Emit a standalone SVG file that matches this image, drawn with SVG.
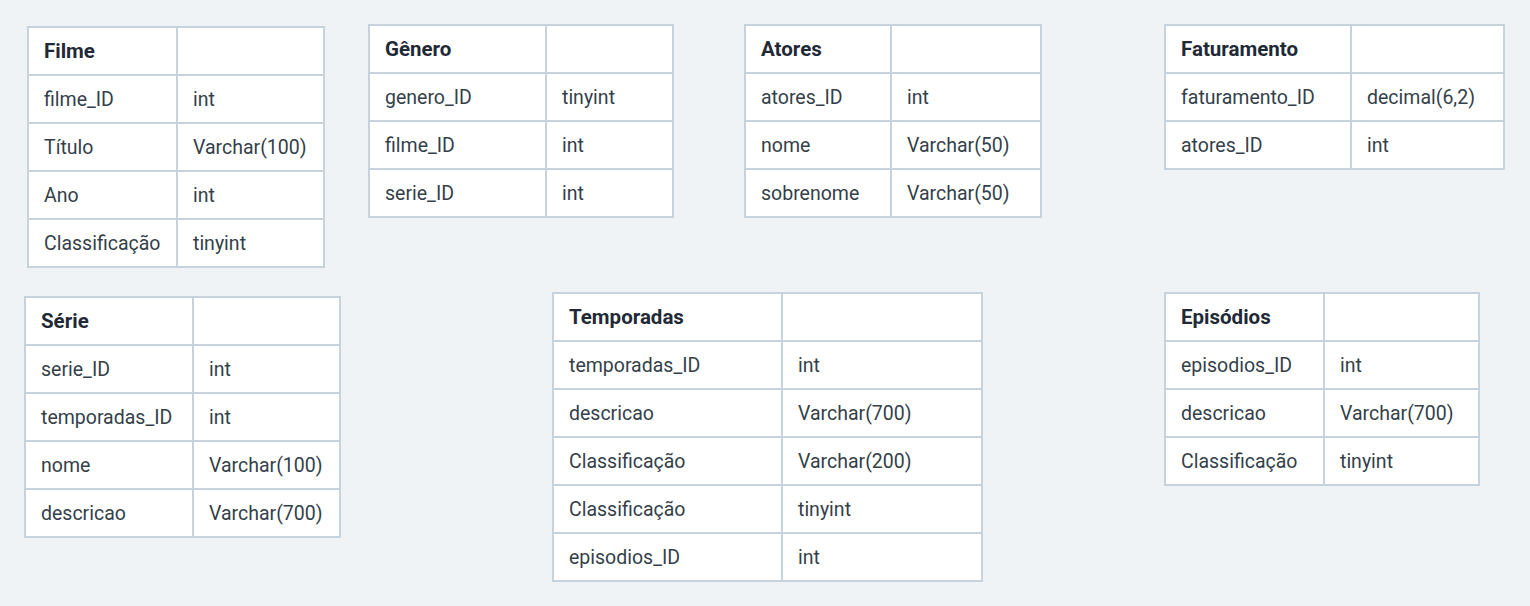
<svg xmlns="http://www.w3.org/2000/svg" width="1530" height="606" viewBox="0 0 1530 606">
<style>
.bg{fill:#eff3f6}
.cell{fill:#ffffff;stroke:#c6d2dc;stroke-width:2}
.ln{stroke:#c6d2dc;stroke-width:2}
text{font-family:Roboto,"Liberation Sans",sans-serif;font-size:19.5px;fill:#343f4a;dominant-baseline:central}
.h{font-weight:bold;font-size:20.5px;fill:#1f2a36}
</style>
<rect class="bg" x="0" y="0" width="1530" height="606"/>
<g id="filme">
<rect class="cell" x="28" y="27" width="296" height="240"/>
<line class="ln" x1="177" y1="27" x2="177" y2="267"/>
<line class="ln" x1="28" y1="75" x2="324" y2="75"/>
<line class="ln" x1="28" y1="123" x2="324" y2="123"/>
<line class="ln" x1="28" y1="171" x2="324" y2="171"/>
<line class="ln" x1="28" y1="219" x2="324" y2="219"/>
<text class="h" x="44" y="51">Filme</text>
<text x="44" y="99">filme_ID</text><text x="193" y="99">int</text>
<text x="44" y="147">Título</text><text x="193" y="147">Varchar(100)</text>
<text x="44" y="195">Ano</text><text x="193" y="195">int</text>
<text x="44" y="243">Classificação</text><text x="193" y="243">tinyint</text>
</g>
<g id="genero">
<rect class="cell" x="369" y="25" width="304" height="192"/>
<line class="ln" x1="546" y1="25" x2="546" y2="217"/>
<line class="ln" x1="369" y1="73" x2="673" y2="73"/>
<line class="ln" x1="369" y1="121" x2="673" y2="121"/>
<line class="ln" x1="369" y1="169" x2="673" y2="169"/>
<text class="h" x="385" y="49">Gênero</text>
<text x="385" y="97">genero_ID</text><text x="562" y="97">tinyint</text>
<text x="385" y="145">filme_ID</text><text x="562" y="145">int</text>
<text x="385" y="193">serie_ID</text><text x="562" y="193">int</text>
</g>
<g id="atores">
<rect class="cell" x="745" y="25" width="296" height="192"/>
<line class="ln" x1="891" y1="25" x2="891" y2="217"/>
<line class="ln" x1="745" y1="73" x2="1041" y2="73"/>
<line class="ln" x1="745" y1="121" x2="1041" y2="121"/>
<line class="ln" x1="745" y1="169" x2="1041" y2="169"/>
<text class="h" x="761" y="49">Atores</text>
<text x="761" y="97">atores_ID</text><text x="907" y="97">int</text>
<text x="761" y="145">nome</text><text x="907" y="145">Varchar(50)</text>
<text x="761" y="193">sobrenome</text><text x="907" y="193">Varchar(50)</text>
</g>
<g id="faturamento">
<rect class="cell" x="1165" y="25" width="339" height="144"/>
<line class="ln" x1="1351" y1="25" x2="1351" y2="169"/>
<line class="ln" x1="1165" y1="73" x2="1504" y2="73"/>
<line class="ln" x1="1165" y1="121" x2="1504" y2="121"/>
<text class="h" x="1181" y="49">Faturamento</text>
<text x="1181" y="97">faturamento_ID</text><text x="1367" y="97">decimal(6,2)</text>
<text x="1181" y="145">atores_ID</text><text x="1367" y="145">int</text>
</g>
<g id="serie">
<rect class="cell" x="25" y="297" width="315" height="240"/>
<line class="ln" x1="193" y1="297" x2="193" y2="537"/>
<line class="ln" x1="25" y1="345" x2="340" y2="345"/>
<line class="ln" x1="25" y1="393" x2="340" y2="393"/>
<line class="ln" x1="25" y1="441" x2="340" y2="441"/>
<line class="ln" x1="25" y1="489" x2="340" y2="489"/>
<text class="h" x="41" y="321">Série</text>
<text x="41" y="369">serie_ID</text><text x="209" y="369">int</text>
<text x="41" y="417">temporadas_ID</text><text x="209" y="417">int</text>
<text x="41" y="465">nome</text><text x="209" y="465">Varchar(100)</text>
<text x="41" y="513">descricao</text><text x="209" y="513">Varchar(700)</text>
</g>
<g id="temporadas">
<rect class="cell" x="553" y="293" width="429" height="288"/>
<line class="ln" x1="782" y1="293" x2="782" y2="581"/>
<line class="ln" x1="553" y1="341" x2="982" y2="341"/>
<line class="ln" x1="553" y1="389" x2="982" y2="389"/>
<line class="ln" x1="553" y1="437" x2="982" y2="437"/>
<line class="ln" x1="553" y1="485" x2="982" y2="485"/>
<line class="ln" x1="553" y1="533" x2="982" y2="533"/>
<text class="h" x="569" y="317">Temporadas</text>
<text x="569" y="365">temporadas_ID</text><text x="798" y="365">int</text>
<text x="569" y="413">descricao</text><text x="798" y="413">Varchar(700)</text>
<text x="569" y="461">Classificação</text><text x="798" y="461">Varchar(200)</text>
<text x="569" y="509">Classificação</text><text x="798" y="509">tinyint</text>
<text x="569" y="557">episodios_ID</text><text x="798" y="557">int</text>
</g>
<g id="episodios">
<rect class="cell" x="1165" y="293" width="314" height="192"/>
<line class="ln" x1="1324" y1="293" x2="1324" y2="485"/>
<line class="ln" x1="1165" y1="341" x2="1479" y2="341"/>
<line class="ln" x1="1165" y1="389" x2="1479" y2="389"/>
<line class="ln" x1="1165" y1="437" x2="1479" y2="437"/>
<text class="h" x="1181" y="317">Episódios</text>
<text x="1181" y="365">episodios_ID</text><text x="1340" y="365">int</text>
<text x="1181" y="413">descricao</text><text x="1340" y="413">Varchar(700)</text>
<text x="1181" y="461">Classificação</text><text x="1340" y="461">tinyint</text>
</g>
<g id="connectors"></g>
</svg>
